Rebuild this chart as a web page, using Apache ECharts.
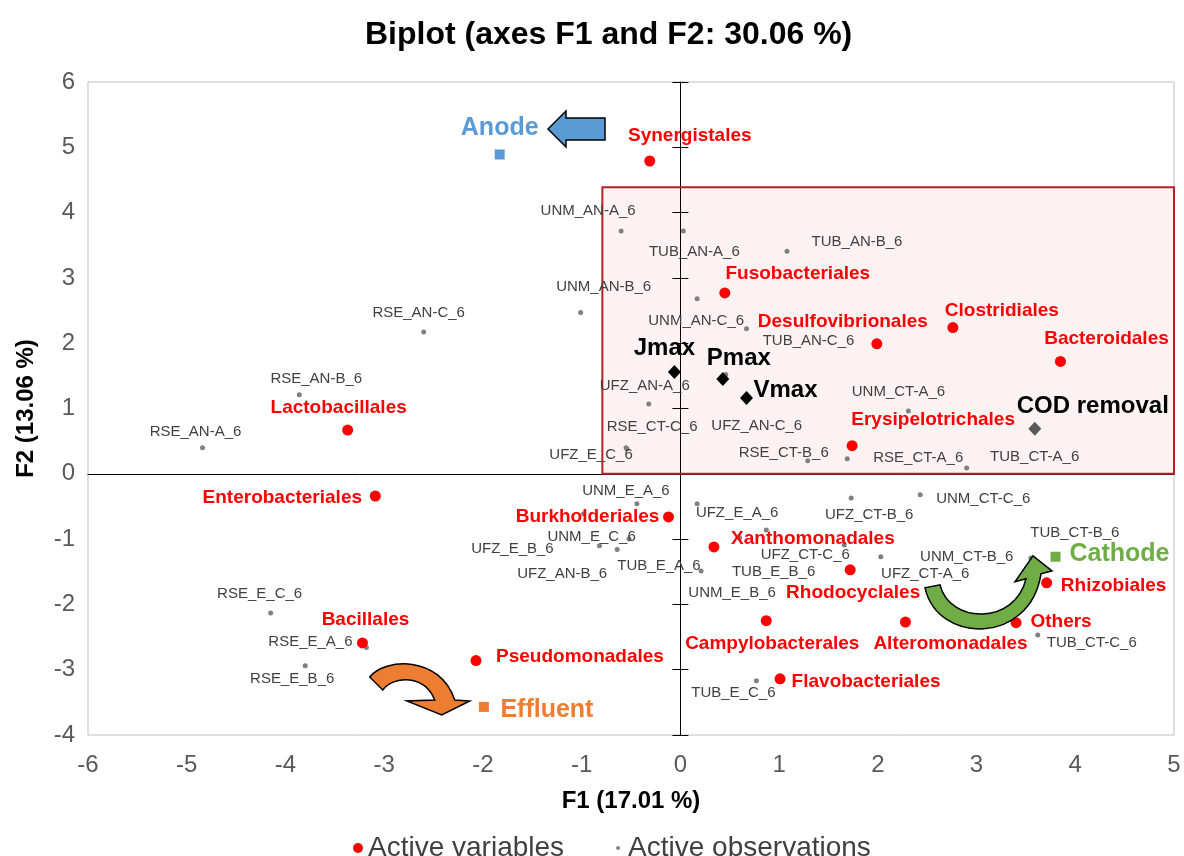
<!DOCTYPE html>
<html><head><meta charset="utf-8">
<script src="https://cdn.jsdelivr.net/npm/echarts@6/dist/echarts.min.js"></script>
<style>html,body{margin:0;padding:0;background:#fff}#c{width:1184px;height:856px}</style>
</head><body><div id="c"></div>
<script>
// ---------------- DATA ----------------
const xTickMin = -6, xTickMax = 5, yTickMin = -4, yTickMax = 6;

const varNames = ['Synergistales','Fusobacteriales','Desulfovibrionales','Clostridiales','Bacteroidales','Erysipelotrichales','Lactobacillales','Enterobacteriales','Burkholderiales','Xanthomonadales','Rhodocyclales','Rhizobiales','Campylobacterales','Alteromonadales','Others','Flavobacteriales','Pseudomonadales','Bacillales'];
const varX = [-0.31, 0.45, 1.99, 2.76, 3.85, 1.74, -3.37, -3.09, -0.12, 0.34, 1.72, 3.71, 0.87, 2.28, 3.40, 1.01, -2.07, -3.22];
const varY = [4.79, 2.77, 1.99, 2.24, 1.72, 0.43, 0.67, -0.34, -0.66, -1.12, -1.47, -1.67, -2.25, -2.27, -2.28, -3.14, -2.86, -2.59];

const obsNames = ['RSE_AN-A_6','RSE_AN-B_6','RSE_AN-C_6','UNM_AN-A_6','TUB_AN-A_6','UNM_AN-C_6','UNM_AN-B_6','TUB_AN-C_6','TUB_AN-B_6','UFZ_AN-C_6','UFZ_AN-A_6','RSE_CT-C_6','UFZ_E_C_6','RSE_CT-B_6','RSE_CT-A_6','UNM_CT-A_6','TUB_CT-A_6','RSE_E_C_6','RSE_E_A_6','RSE_E_B_6','UNM_E_A_6','UNM_E_C_6','UFZ_E_B_6','UFZ_AN-B_6','TUB_E_A_6','UFZ_E_A_6','UNM_E_B_6','TUB_E_B_6','UFZ_CT-C_6','UFZ_CT-B_6','UNM_CT-C_6','UFZ_CT-A_6','UNM_CT-B_6','TUB_CT-B_6','TUB_CT-C_6','TUB_E_C_6'];
const obsX = [-4.84, -3.86, -2.60, -0.60, 0.03, 0.17, -1.01, 0.67, 1.08, 0.46, -0.32, -0.55, -0.54, 1.29, 1.69, 2.31, 2.90, -4.15, -3.18, -3.80, -0.44, -0.98, -0.82, -0.64, -0.52, 0.17, 0.21, 0.60, 0.87, 1.73, 2.43, 1.66, 2.03, 3.55, 3.62, 0.77];
const obsY = [0.40, 1.21, 2.17, 3.72, 3.72, 2.68, 2.47, 2.22, 3.41, 1.52, 1.07, 0.40, 0.38, 0.20, 0.23, 0.96, 0.09, -2.13, -2.66, -2.94, -0.46, -0.61, -1.10, -1.16, -1.00, -0.46, -1.49, -0.98, -0.86, -0.37, -0.32, -1.09, -1.27, -1.29, -2.47, -3.17];

const suppNames = ['Jmax','Pmax','Vmax','COD removal'];
const suppX = [-0.06, 0.43, 0.67, 3.59];
const suppY = [1.56, 1.45, 1.16, 0.69];

const siteNames = ['Anode','Effluent','Cathode'];
const siteX = [-1.83, -1.99, 3.80];
const siteY = [4.89, -3.57, -1.27];

const highlightBox = [[-0.79, 4.39], [5.0, 0.0]];

const arrowNames = ['anode','effluent','cathode'];
const arrowX = [-1.047, -2.64, 3.035];
const arrowY = [5.28, -3.31, -1.93];

// ---------------- LAYOUT / STYLE ----------------
const FONT = "'Liberation Sans', Arial, sans-serif";
const varLabelOffset = [[40,-25],[73,-19],[-34,-22],[49,-17],[46,-23],[81,-26],[-9,-22],[-93,2],[-81,0],[99,-8],[3,23],[67,3],[6,23],[45,22],[45,-1],[86,3],[104,-4],[3,-23]];
const obsLabelOffset = [[-7,-16],[17,-16],[-5,-19],[-33,-20],[11,21],[-1,22],[23,-26],[62,12],[70,-9],[31,51],[-4,-18],[26,-21],[-36,6],[-24,-8],[71,-1],[-10,-19],[68,-11],[-11,-19],[-56,-6],[-13,13],[-11,-13],[8,23],[-87,3],[-55,24],[30,27],[40,9],[31,22],[34,34],[39,25],[18,17],[63,4],[81,29],[86,0],[44,-25],[54,8],[-23,12]];
const suppLabelOffset = [[-10,-24],[16,-21],[39,-8],[58,-22]];
const suppColors = ['#000000','#000000','#000000','#595959'];
const siteLabelOffset = [[0,-26],[63,3],[64,-3]];
const siteColors = ['#5b9bd5','#ed7d31','#70ad47'];
const arrowStyle = [
  {fill:'#5b9bd5', path:'M-29,0 L-11,-18 L-11,-11 L28,-11 L28,11 L-11,11 L-11,18 Z'},
  {fill:'#ed7d31', path:'M-50,-13 C-35,-32 20,-35 35,10 L50,11 L22,25 L-13,11 L15,10 C5,-15 -25,-15 -37,0 Z'},
  {fill:'#70ad47', path:'M-55,-12 C-42,45 50,45 61,-26 L72,-29 L53,-44 L35,-18 L46,-21 C35,25 -30,25 -40,-15 Z'}
];

const obsData = obsNames.map((n,i)=>({name:n, value:[obsX[i],obsY[i]], label:{offset:obsLabelOffset[i]}}));
const varData = varNames.map((n,i)=>({name:n, value:[varX[i],varY[i]], label:{offset:varLabelOffset[i]}}));
const suppData = suppNames.map((n,i)=>({name:n, value:[suppX[i],suppY[i]], itemStyle:{color:suppColors[i], opacity:1}, label:{offset:suppLabelOffset[i]}}));
const siteData = siteNames.map((n,i)=>({name:n, value:[siteX[i],siteY[i]], itemStyle:{color:siteColors[i], opacity:1}, label:{offset:siteLabelOffset[i], color:siteColors[i]}}));
const arrowData = arrowNames.map((n,i)=>({name:n, value:[arrowX[i],arrowY[i]]}));

const baseX = {type:'value', min:xTickMin, max:xTickMax, interval:1, splitLine:{show:false}};
const baseY = {type:'value', min:yTickMin, max:yTickMax, interval:1, splitLine:{show:false}};

const chart = echarts.init(document.getElementById('c'), null, {renderer:'canvas'});
chart.setOption({
  animation:false,
  textStyle:{fontFamily:FONT},
  title:{text:'Biplot (axes F1 and F2: 30.06 %)', left:360, top:14, padding:[5,5,5,5],
    textStyle:{fontFamily:FONT, fontSize:32, fontWeight:'bold', color:'#000'}},
  legend:{
    data:[{name:'Active variables', icon:'circle'},
          {name:'Active observations', icon:'path://M0,0M10,10M3,5A2,2,0,1,1,7,5A2,2,0,1,1,3,5Z'}],
    left:348, top:829, itemWidth:10, itemHeight:10, itemGap:49, selectedMode:false,
    textStyle:{fontSize:28, color:'#404040', fontFamily:FONT}
  },
  grid:{left:88, right:10, top:82, bottom:121, show:true, borderColor:'#bfbfbf', borderWidth:1},
  xAxis:[
    Object.assign({}, baseX, {position:'bottom', axisLine:{show:false,onZero:false}, axisTick:{show:false},
      axisLabel:{fontSize:24, color:'#595959', margin:18, fontFamily:FONT},
      name:'F1 (17.01 %)', nameLocation:'middle', nameGap:54,
      nameTextStyle:{fontSize:24, fontWeight:'bold', color:'#000', fontFamily:FONT}}),
    Object.assign({}, baseX, {position:'bottom', axisLine:{show:true,onZero:true,onZeroAxisIndex:0,lineStyle:{color:'#000',width:1}},
      axisTick:{show:false}, axisLabel:{show:false}})
  ],
  yAxis:[
    Object.assign({}, baseY, {position:'left', axisLine:{show:false,onZero:false}, axisTick:{show:false},
      axisLabel:{fontSize:24, color:'#595959', margin:13, fontFamily:FONT},
      name:'F2 (13.06 %)', nameLocation:'middle', nameGap:50,
      nameTextStyle:{fontSize:24, fontWeight:'bold', color:'#000', fontFamily:FONT}}),
    Object.assign({}, baseY, {position:'left', axisLine:{show:true,onZero:true,onZeroAxisIndex:0,lineStyle:{color:'#000',width:1}},
      axisTick:{show:true,length:8,lineStyle:{color:'#000'}}, axisLabel:{show:false}}),
    Object.assign({}, baseY, {position:'right', axisLine:{show:false,onZero:true,onZeroAxisIndex:0},
      axisTick:{show:true,length:8,lineStyle:{color:'#000'}}, axisLabel:{show:false}})
  ],
  series:[
    {name:'box', type:'scatter', data:[], z:1, silent:true,
      markArea:{silent:true, itemStyle:{color:'rgba(192,0,0,0.05)', borderColor:'#b22222', borderWidth:2, opacity:1},
        data:[[{coord:highlightBox[0]},{coord:highlightBox[1]}]]}},
    {name:'Active observations', type:'scatter', symbol:'circle', symbolSize:5, z:3, silent:true,
      itemStyle:{color:'#808080', opacity:1}, data:obsData,
      label:{show:true, position:'inside', formatter:'{b}', fontSize:15, color:'#404040', opacity:1, fontFamily:FONT, textBorderWidth:0}},
    {name:'Active variables', type:'scatter', symbol:'circle', symbolSize:11, z:4, silent:true,
      itemStyle:{color:'#ff0000', opacity:1}, data:varData,
      label:{show:true, position:'inside', formatter:'{b}', fontSize:19, fontWeight:'bold', color:'#ff0000', opacity:1, fontFamily:FONT, textBorderWidth:0}},
    {name:'Supplementary', type:'scatter', symbol:'diamond', symbolSize:[13,14], z:5, silent:true,
      itemStyle:{opacity:1}, data:suppData,
      label:{show:true, position:'inside', formatter:'{b}', fontSize:24, fontWeight:'bold', color:'#000', opacity:1, fontFamily:FONT, textBorderWidth:0}},
    {name:'Sites', type:'scatter', symbol:'rect', symbolSize:10, z:5, silent:true,
      itemStyle:{opacity:1}, data:siteData,
      label:{show:true, position:'inside', formatter:'{b}', fontSize:25, fontWeight:'bold', opacity:1, fontFamily:FONT, textBorderWidth:0}},
    {name:'Arrows', type:'custom', coordinateSystem:'cartesian2d', z:6, silent:true, clip:false,
      data:arrowData,
      renderItem:function(params, api){
        const i = params.dataIndex;
        const p = api.coord([api.value(0), api.value(1)]);
        return {type:'path', x:p[0], y:p[1], shape:{pathData:arrowStyle[i].path},
          style:{fill:arrowStyle[i].fill, stroke:'#000', lineWidth:1.5}};
      }}
  ]
});
</script>
</body></html>
